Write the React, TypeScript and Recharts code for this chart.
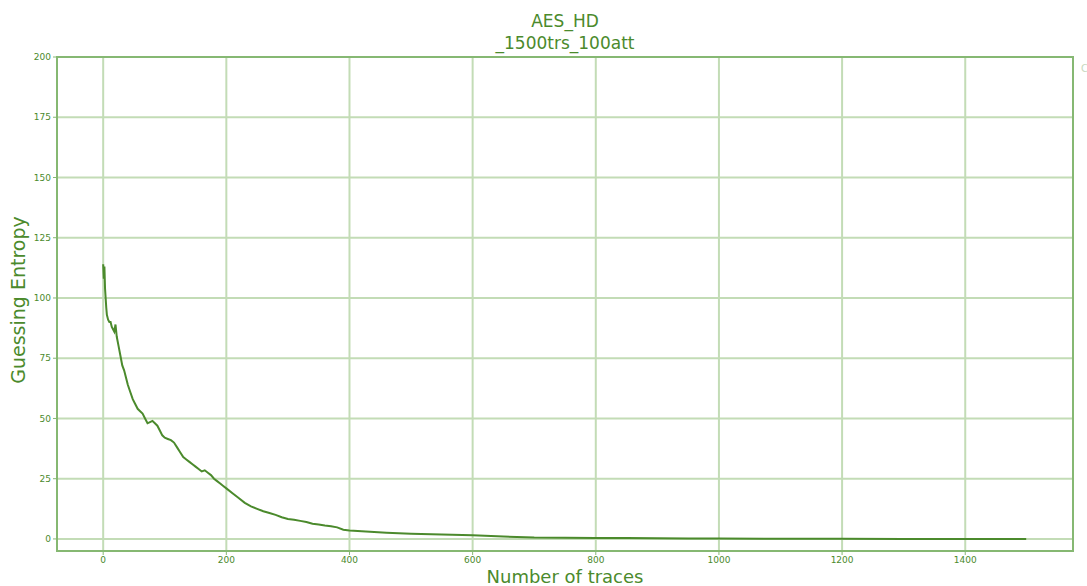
import React from "react";
import {
  LineChart, Line, XAxis, YAxis, CartesianGrid, ReferenceArea,
} from "recharts";

// number of traces used in the attack
const traces = [
  0, 1, 2, 3, 4, 5, 6, 8, 10, 12, 14, 16, 18, 20, 22, 25, 28, 31, 34, 37, 40, 44, 48, 52, 56, 60,
  64, 68, 72, 76, 80, 84, 88, 92, 96, 100, 105, 110, 115, 120, 125, 130, 135, 140, 145, 150, 155,
  160, 165, 170, 175, 180, 185, 190, 195, 200, 210, 220, 230, 240, 250, 260, 270, 280, 290, 300,
  310, 320, 330, 340, 350, 360, 370, 380, 390, 400, 420, 440, 460, 480, 500, 550, 600, 650, 700,
  750, 800, 850, 900, 950, 1000, 1100, 1200, 1300, 1400, 1499,
];

// guessing entropy
const entropy = [
  114, 108, 113, 104, 100, 96, 93, 91, 90, 90, 88, 87, 86, 89, 84, 80, 76, 72, 70, 67, 64, 61, 58,
  56, 54, 53, 52, 50, 48, 48.5, 49, 48, 47, 45, 43, 42, 41.5, 41, 40, 38, 36, 34, 33, 32, 31, 30,
  29, 28, 28.5, 27.5, 26.5, 25, 24, 23, 22, 21, 19, 17, 15, 13.5, 12.5, 11.5, 10.8, 10, 9, 8.3, 8,
  7.5, 7, 6.3, 6, 5.6, 5.3, 4.8, 3.8, 3.5, 3.2, 2.9, 2.6, 2.4, 2.2, 1.8, 1.5, 1.0, 0.6, 0.5, 0.4,
  0.35, 0.3, 0.2, 0.15, 0.1, 0.05, 0.03, 0.02, 0,
];

const xTicks = [0, 200, 400, 600, 800, 1000, 1200, 1400];
const yTicks = [0, 25, 50, 75, 100, 125, 150, 175, 200];
const xDomain = [-75, 1575];
const yDomain = [-5, 200];

const data = traces.map((t, i) => ({ t, ge: entropy[i] }));

const GREEN = "#4b8a2c";
const FRAME = "#86b873";
const GRID = "#c3dcb6";
const font = "'DejaVu Sans', sans-serif";

export default function App() {
  return (
    <div style={{ position: "absolute", left: 0, top: 0, width: 1087, height: 586, background: "#fff", overflow: "hidden", fontFamily: font }}>
      <div style={{ position: "absolute", left: 0, width: 1130, top: 10, textAlign: "center", color: GREEN, fontSize: 17, lineHeight: "22px" }}>
        <div>AES_HD</div>
        <div>_1500trs_100att</div>
      </div>
      <LineChart width={1087} height={586} data={data} margin={{ top: 57, right: 14, bottom: 5, left: 17 }}>
        <CartesianGrid stroke={GRID} strokeWidth={2} ticks={undefined} />
        <XAxis
          dataKey="t" type="number" domain={xDomain} ticks={xTicks} allowDataOverflow
          height={30} stroke={FRAME} tickSize={4}
          tick={{ fill: GREEN, fontSize: 9, fontFamily: font }}
        />
        <YAxis
          type="number" domain={yDomain} ticks={yTicks} allowDataOverflow
          width={40} stroke={FRAME} tickSize={4}
          tick={{ fill: GREEN, fontSize: 9, fontFamily: font }}
        />
        <ReferenceArea x1={xDomain[0]} x2={xDomain[1]} y1={yDomain[0]} y2={yDomain[1]} fill="none" stroke={FRAME} strokeWidth={2} />
        <Line type="linear" dataKey="ge" stroke={GREEN} strokeWidth={2} dot={false} isAnimationActive={false} />
      </LineChart>
      <div style={{ position: "absolute", left: 18, top: 300, transform: "translate(-50%, -50%) rotate(-90deg)", whiteSpace: "nowrap", color: GREEN, fontSize: 19 }}>
        Guessing Entropy
      </div>
      <div style={{ position: "absolute", left: 565, top: 566, transform: "translateX(-50%)", whiteSpace: "nowrap", color: GREEN, fontSize: 18 }}>
        Number of traces
      </div>
      <div style={{ position: "absolute", left: 1081, top: 63, color: "#c8d8c0", fontSize: 10 }}>C</div>
    </div>
  );
}
